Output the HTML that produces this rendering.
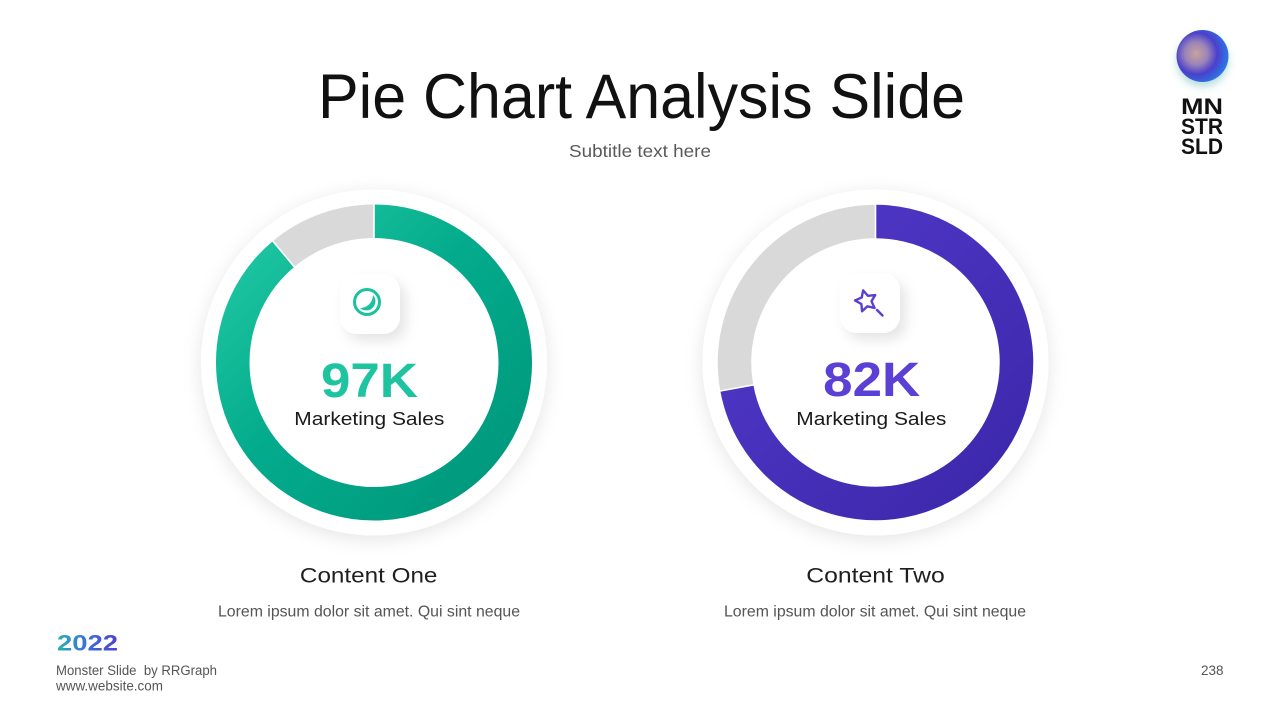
<!DOCTYPE html>
<html>
<head>
<meta charset="utf-8">
<style>
  html,body{margin:0;padding:0;background:#ffffff;}
  body{width:1280px;height:720px;overflow:hidden;}
  svg{display:block;}
  text{font-family:"Liberation Sans", sans-serif;}
</style>
</head>
<body>
<svg width="1280" height="720" viewBox="0 0 1280 720" xmlns="http://www.w3.org/2000/svg">
  <defs>
    <filter id="discShadow" x="-30%" y="-30%" width="160%" height="160%">
      <feDropShadow dx="0" dy="4" stdDeviation="9" flood-color="#000" flood-opacity="0.10"/>
    </filter>
    <filter id="boxShadow" x="-50%" y="-50%" width="200%" height="200%">
      <feDropShadow dx="6" dy="7" stdDeviation="6" flood-color="#000" flood-opacity="0.10"/>
    </filter>
    <filter id="logoShadow" x="-50%" y="-50%" width="200%" height="200%">
      <feDropShadow dx="0" dy="5" stdDeviation="4" flood-color="#3aa0a0" flood-opacity="0.35"/>
    </filter>
    <linearGradient id="teal" gradientUnits="userSpaceOnUse" x1="232" y1="220" x2="516" y2="505">
      <stop offset="0" stop-color="#22caa5"/>
      <stop offset="0.45" stop-color="#03ab8c"/>
      <stop offset="1" stop-color="#00967b"/>
    </linearGradient>
    <linearGradient id="purple" gradientUnits="userSpaceOnUse" x1="734" y1="220" x2="1017" y2="505">
      <stop offset="0" stop-color="#5239ca"/>
      <stop offset="1" stop-color="#3b27aa"/>
    </linearGradient>
    <linearGradient id="yr" gradientUnits="userSpaceOnUse" x1="57" y1="0" x2="119" y2="0">
      <stop offset="0" stop-color="#27b3b0"/>
      <stop offset="0.5" stop-color="#3a6fd6"/>
      <stop offset="1" stop-color="#4f3fd2"/>
    </linearGradient>
    <radialGradient id="sphere" cx="0.38" cy="0.45" r="0.62">
      <stop offset="0" stop-color="#c9a39c"/>
      <stop offset="0.35" stop-color="#9a84b8"/>
      <stop offset="0.65" stop-color="#4a40cc"/>
      <stop offset="1" stop-color="#2b78e6"/>
    </radialGradient>
  </defs>

  <!-- Title -->
  <text x="641.5" y="118" font-size="63" fill="#111111" text-anchor="middle" textLength="647" lengthAdjust="spacingAndGlyphs">Pie Chart Analysis Slide</text>
  <text x="640" y="157" font-size="17.5" fill="#595959" text-anchor="middle" textLength="142" lengthAdjust="spacingAndGlyphs">Subtitle text here</text>

  <!-- Logo -->
  <circle cx="1202.5" cy="56" r="26" fill="url(#sphere)" filter="url(#logoShadow)"/>
  <text x="1181" y="114" font-size="22" font-weight="bold" fill="#111" textLength="42" lengthAdjust="spacingAndGlyphs">MN</text>
  <text x="1181" y="134" font-size="22" font-weight="bold" fill="#111" textLength="42" lengthAdjust="spacingAndGlyphs">STR</text>
  <text x="1181" y="154" font-size="22" font-weight="bold" fill="#111" textLength="42" lengthAdjust="spacingAndGlyphs">SLD</text>

  <!-- Left donut -->
  <circle cx="374" cy="362.5" r="173" fill="#ffffff" filter="url(#discShadow)"/>
  <path d="M374 221.25 A141.25 141.25 0 1 1 283.59 253.98" fill="none" stroke="url(#teal)" stroke-width="33.5"/>
  <path d="M283.59 253.98 A141.25 141.25 0 0 1 374 221.25" fill="none" stroke="#d9d9d9" stroke-width="33.5"/>
  <line x1="374" y1="202.5" x2="374" y2="239.5" stroke="#ffffff" stroke-width="1.6"/>
  <line x1="295.27" y1="268" x2="271.6" y2="239.6" stroke="#ffffff" stroke-width="1.6"/>

  <rect x="340" y="274" width="60" height="60" rx="17" fill="#ffffff" filter="url(#boxShadow)"/>
  <circle cx="367" cy="302" r="12.5" fill="none" stroke="#1cc29f" stroke-width="3"/>
  <path d="M373 295 A9.2 9.2 0 0 1 360 308 A13 13 0 0 0 373 295 Z" fill="#1cc29f"/>

  <text x="369.5" y="397" font-size="48" font-weight="bold" fill="#1ec4a0" text-anchor="middle" textLength="97" lengthAdjust="spacingAndGlyphs">97K</text>
  <text x="369.3" y="425" font-size="18.5" fill="#1a1a1a" text-anchor="middle" textLength="150" lengthAdjust="spacingAndGlyphs">Marketing Sales</text>

  <!-- Right donut -->
  <circle cx="875.5" cy="362.5" r="173" fill="#ffffff" filter="url(#discShadow)"/>
  <path d="M875.5 221.5 A141 141 0 1 1 736.81 387.95" fill="none" stroke="url(#purple)" stroke-width="33.5"/>
  <path d="M736.81 387.95 A141 141 0 0 1 875.5 221.5" fill="none" stroke="#d9d9d9" stroke-width="33.5"/>
  <line x1="875.5" y1="202.5" x2="875.5" y2="239.5" stroke="#ffffff" stroke-width="1.6"/>
  <line x1="754.52" y1="384.7" x2="718.1" y2="391.4" stroke="#ffffff" stroke-width="1.6"/>

  <rect x="840" y="273" width="60" height="60" rx="17" fill="#ffffff" filter="url(#boxShadow)"/>
  <polygon points="863.15,290.37 867.97,295.87 875.23,295.01 871.49,301.29 874.55,307.92 867.42,306.31 862.06,311.27 861.39,304.0 855.02,300.42 861.73,297.54" fill="none" stroke="#5a3fd0" stroke-width="2.4" stroke-linejoin="round"/>
  <line x1="877" y1="310" x2="882.5" y2="315.5" stroke="#5a3fd0" stroke-width="2.4" stroke-linecap="round"/>

  <text x="871.7" y="396" font-size="48" font-weight="bold" fill="#5a40d4" text-anchor="middle" textLength="97" lengthAdjust="spacingAndGlyphs">82K</text>
  <text x="871.3" y="425" font-size="18.5" fill="#1a1a1a" text-anchor="middle" textLength="150" lengthAdjust="spacingAndGlyphs">Marketing Sales</text>

  <!-- Captions -->
  <text x="368.7" y="582.3" font-size="21" fill="#1f1f1f" text-anchor="middle" textLength="137.5" lengthAdjust="spacingAndGlyphs">Content One</text>
  <text x="369" y="616.5" font-size="15.5" fill="#555555" text-anchor="middle" textLength="302" lengthAdjust="spacingAndGlyphs">Lorem ipsum dolor sit amet. Qui sint neque</text>

  <text x="875.5" y="582.3" font-size="21" fill="#1f1f1f" text-anchor="middle" textLength="138.5" lengthAdjust="spacingAndGlyphs">Content Two</text>
  <text x="875" y="616.5" font-size="15.5" fill="#555555" text-anchor="middle" textLength="302" lengthAdjust="spacingAndGlyphs">Lorem ipsum dolor sit amet. Qui sint neque</text>

  <!-- Footer -->
  <text x="57" y="650.5" font-size="22.5" font-weight="bold" fill="url(#yr)" textLength="61" lengthAdjust="spacingAndGlyphs">2022</text>
  <text x="56" y="675" font-size="13.5" fill="#555555" textLength="161" lengthAdjust="spacingAndGlyphs">Monster Slide&#160; by RRGraph</text>
  <text x="56" y="690.5" font-size="13.5" fill="#555555" textLength="107" lengthAdjust="spacingAndGlyphs">www.website.com</text>
  <text x="1223.5" y="675" font-size="13.5" fill="#555555" text-anchor="end">238</text>
</svg>
</body>
</html>
